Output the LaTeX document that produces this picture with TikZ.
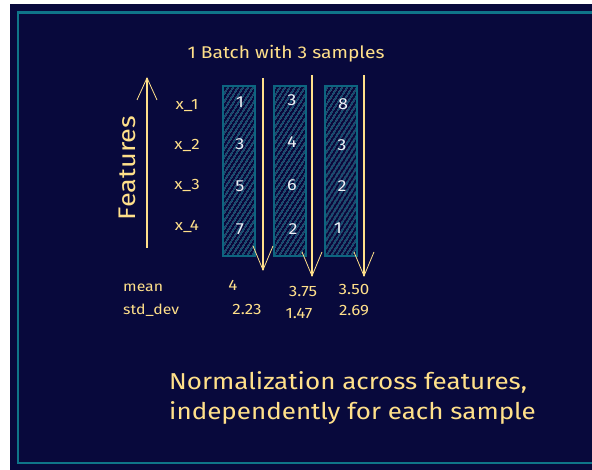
\documentclass[tikz,border=0pt]{standalone}
\usepackage{fontspec}
\setmainfont{Fira Sans}[FakeStretch=1.13]
\usetikzlibrary{arrows.meta,patterns.meta}
\definecolor{navy}{HTML}{08093C}
\definecolor{frameteal}{HTML}{0F7589}
\definecolor{boxteal}{HTML}{0D6580}
\definecolor{hatchteal}{HTML}{14768E}
\definecolor{chalk}{HTML}{FFE08A}
\definecolor{digit}{HTML}{EEF2F7}
\tikzset{
  fs/.style={font=\fontsize{#1}{#1}\selectfont},
  lbl/.style={text=chalk, inner sep=0pt},
  column/.style={draw=boxteal, line width=1.3pt, minimum width=32pt, minimum height=170pt,
    inner sep=0pt, pattern={Lines[angle=58,distance=4pt,line width=1.1pt]}, pattern color=hatchteal},
  val/.style={text=digit, inner sep=0pt, fs=16},
  chalkarrow/.style={draw=chalk, line width=1.1pt, -{Straight Barb[length=24pt,width=20pt,line width=0.8pt]}},
}
\begin{document}
\begin{tikzpicture}[x=1pt,y=-1pt]
  % canvas and frame
  \useasboundingbox (0,0) rectangle (592,470);
  \fill[white] (0,0) rectangle (592,470);
  \fill[navy] (10,4) rectangle (592,470);
  \draw[frameteal, line width=2.5pt] (592,12.5) -- (18,12.5) -- (18,463) -- (592,463);

  % heading
  \node[lbl, fs=17] (title) at (286,54) {1 Batch with 3 samples};

  % feature axis
  \coordinate (fbot) at (147,248);
  \coordinate (ftop) at (147,77);
  \draw[chalkarrow, -{Straight Barb[length=22pt,width=20pt,line width=0.8pt]}] (fbot) -- (ftop);
  \node[lbl, fs=24, rotate=90] (feat) at (127,168) {Features};

  % feature names
  \node[lbl, fs=15] (x1) at (187,106) {x\_1};
  \node[lbl, fs=15] (x2) at (187,145) {x\_2};
  \node[lbl, fs=15] (x3) at (187,185) {x\_3};
  \node[lbl, fs=15] (x4) at (187,226) {x\_4};

  % samples
  \node[column] (s1) at (239,171) {};
  \node[column] (s2) at (290,171) {};
  \node[column] (s3) at (341,171) {};

  \node[val] (a1) at (240,102) {1};
  \node[val] (a2) at (240,144) {3};
  \node[val] (a3) at (240,186) {5};
  \node[val] (a4) at (240,229) {7};
  \node[val] (b1) at (292,100) {3};
  \node[val] (b2) at (292,142) {4};
  \node[val] (b3) at (292,185) {6};
  \node[val] (b4) at (293,229) {2};
  \node[val] (c1) at (343,104) {8};
  \node[val] (c2) at (342,145) {3};
  \node[val] (c3) at (342,186) {2};
  \node[val] (c4) at (338,228) {1};

  % direction of normalization
  \coordinate (d1t) at (263,78);  \coordinate (d1b) at (263,271);
  \coordinate (d2t) at (312,75);  \coordinate (d2b) at (312,277);
  \coordinate (d3t) at (364,75);  \coordinate (d3b) at (364,277);
  \draw[chalkarrow] (d1t) -- (d1b);
  \draw[chalkarrow] (d2t) -- (d2b);
  \draw[chalkarrow] (d3t) -- (d3b);

  % statistics
  \node[lbl, fs=14, anchor=west] (mean) at (123,288) {mean};
  \node[lbl, fs=14, anchor=west] (std) at (123,310) {std\_dev};
  \node[lbl, fs=15] (m1) at (233,285) {4};
  \node[lbl, fs=15] (m2) at (303,291) {3.75};
  \node[lbl, fs=15] (m3) at (354,289) {3.50};
  \node[lbl, fs=15] (v1) at (247,309) {2.23};
  \node[lbl, fs=15] (v2) at (299,313) {1.47};
  \node[lbl, fs=15] (v3) at (354,311) {2.69};

  % caption
  \node[lbl, fs=23, anchor=west] (cap1) at (169,382) {Normalization across features,};
  \node[lbl, fs=23, anchor=west] (cap2) at (169,413) {independently for each sample};
\end{tikzpicture}
\end{document}
